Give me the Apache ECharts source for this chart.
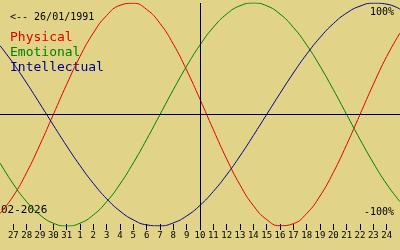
<!DOCTYPE html>
<html>
<head>
<meta charset="utf-8">
<script src="https://cdn.jsdelivr.net/npm/echarts@6/dist/echarts.min.js"></script>
<style>
html,body{margin:0;padding:0;background:#e1d387;}
#c{width:400px;height:250px;}
</style>
</head>
<body>
<div id="c"></div>
<script>
// Days shown (26 Jan .. 25 Feb 2026); first and last are edges without ticks
const days = ['26','27','28','29','30','31','1','2','3','4','5','6','7','8','9','10','11','12','13','14','15','16','17','18','19','20','21','22','23','24','25'];
const today = '10';
const birthLabel = '<-- 26/01/1991';
const monthLabel = '02-2026';
const seriesNames = ['Physical', 'Emotional', 'Intellectual'];
// Values in percent, one per day
const physical = [-88.8,-73.1,-52.0,-27.0,0,27.0,52.0,73.1,88.8,97.9,99.8,94.2,81.7,63.1,39.8,13.6,-13.6,-39.8,-63.1,-81.7,-94.2,-99.8,-97.9,-88.8,-73.1,-52.0,-27.0,0,27.0,52.0,73.1];
const emotional = [-43.4,-62.4,-78.2,-90.1,-97.5,-100,-97.5,-90.1,-78.2,-62.4,-43.4,-22.3,0,22.3,43.4,62.4,78.2,90.1,97.5,100,97.5,90.1,78.2,62.4,43.4,22.3,0,-22.3,-43.4,-62.4,-78.2];
const intellectual = [61.8,45.8,28.2,9.5,-9.5,-28.2,-45.8,-61.8,-75.6,-86.6,-94.5,-99.0,-99.9,-97.2,-91.0,-81.5,-69.0,-54.1,-37.2,-18.9,0,18.9,37.2,54.1,69.0,81.5,91.0,97.2,99.9,99.0,94.5];
const yLabels = ['100%', '-100%'];

const colors = ['#e00000', '#008000', '#000090'];
const mono = '"DejaVu Sans Mono", "Liberation Mono", monospace';
const chart = echarts.init(document.getElementById('c'), null, {renderer: 'canvas'});
const lastIdx = days.length - 1;

const mk = (name, data, color, extra) => Object.assign({
  name, type: 'line', data, smooth: true, showSymbol: false, silent: true,
  lineStyle: {color, width: 1}, itemStyle: {color}
}, extra || {});

chart.setOption({
  animation: false,
  backgroundColor: '#e1d387',
  grid: {left: 0, right: 0, top: 3, bottom: 24, containLabel: false},
  xAxis: {
    type: 'category', data: days, boundaryGap: false, offset: -2,
    axisLine: {show: false, onZero: false},
    axisTick: {show: true, length: 6, lineStyle: {color: '#000', width: 1},
      interval: (i) => i > 0 && i < lastIdx},
    axisLabel: {show: true, margin: 7, fontFamily: mono, fontSize: 9, color: '#000',
      interval: (i) => i > 0 && i < lastIdx},
    splitLine: {show: false}
  },
  yAxis: {
    type: 'value', min: -100, max: 100, show: false
  },
  series: [
    mk(seriesNames[0], physical, colors[0], {
      markLine: {
        silent: true, symbol: 'none', animation: false,
        label: {show: false},
        lineStyle: {color: '#000', width: 1, type: 'solid'},
        data: [{xAxis: today}, {yAxis: 0}]
      }
    }),
    mk(seriesNames[1], emotional, colors[1]),
    mk(seriesNames[2], intellectual, colors[2])
  ],
  graphic: [
    {type: 'text', left: 10, top: 12, style: {text: birthLabel, font: '10px ' + mono, fill: '#000'}},
    {type: 'text', left: 10, top: 31, style: {text: seriesNames[0], font: '13px ' + mono, fill: colors[0]}},
    {type: 'text', left: 10, top: 46, style: {text: seriesNames[1], font: '13px ' + mono, fill: colors[1]}},
    {type: 'text', left: 10, top: 61, style: {text: seriesNames[2], font: '13px ' + mono, fill: colors[2]}},
    {type: 'text', right: 6, top: 7, style: {text: yLabels[0], font: '10px ' + mono, fill: '#000'}},
    {type: 'text', right: 6, top: 207, style: {text: yLabels[1], font: '10px ' + mono, fill: '#000'}},
    {type: 'text', left: 1, top: 205, style: {text: monthLabel, font: '11px ' + mono, fill: '#000'}}
  ]
});
</script>
</body>
</html>
